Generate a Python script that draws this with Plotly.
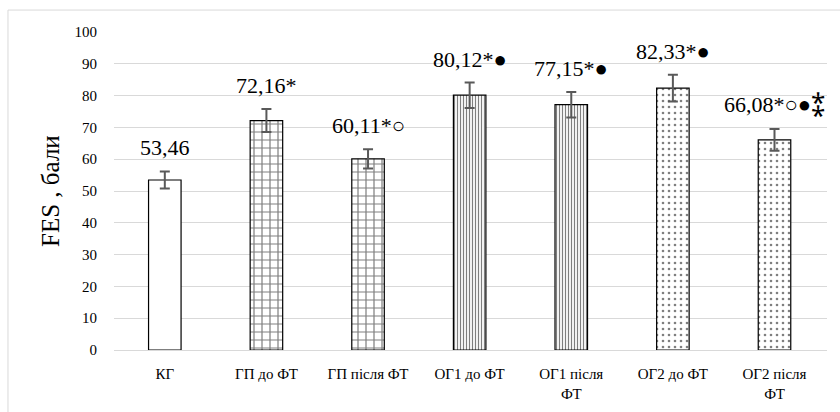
import plotly.graph_objects as go

categories = ["КГ", "ГП до ФТ", "ГП після ФТ", "ОГ1 до ФТ", "ОГ1 після<br>ФТ", "ОГ2 до ФТ", "ОГ2 після<br>ФТ"]
values = [53.46, 72.16, 60.11, 80.12, 77.15, 82.33, 66.08]
errors = [2.7, 3.6, 3.0, 4.0, 4.0, 4.2, 3.4]
labels = ["53,46", "72,16*", "60,11*○", "80,12*●", "77,15*●", "82,33*●", "66,08*○●<span style='font-size:26px'>⁑</span>"]
patterns = ["", "+", "+", "|", "|", ".", "."]
pattern_sizes = [8, 8, 8, 3, 3, 6, 6]
pattern_solidity = [0.2, 0.28, 0.28, 0.4, 0.4, 0.15, 0.15]

SERIF = "Liberation Serif, Times New Roman, Times, serif"

fig = go.Figure()
fig.add_trace(go.Bar(
    x=categories, y=values,
    marker=dict(color="white", line=dict(color="black", width=1.2),
                pattern=dict(shape=patterns, size=pattern_sizes, fgcolor="black",
                             bgcolor="white", solidity=pattern_solidity)),
    error_y=dict(type="data", array=errors, color="#595959", thickness=2, width=5),
    width=0.32,
))

for c, v, e, t in zip(categories, values, errors, labels):
    fig.add_annotation(x=c, y=v + e, text=t, showarrow=False, yanchor="bottom", yshift=9,
                       font=dict(family=SERIF, size=22, color="black"))

fig.add_annotation(xref="paper", yref="paper", x=-0.0898, y=0.5, text="FES , бали",
                   textangle=-90, showarrow=False, xanchor="center", yanchor="middle",
                   font=dict(family=SERIF, size=25, color="black"))

fig.add_shape(type="rect", xref="paper", yref="paper", x0=-0.1487, x1=1.03, y0=-0.25, y1=1.069,
              line=dict(color="#d9d9d9", width=1), fillcolor="rgba(0,0,0,0)", layer="below")

fig.update_layout(
    width=840, height=412,
    margin=dict(l=114, r=13, t=32, b=62),
    paper_bgcolor="white", plot_bgcolor="white",
    showlegend=False,
    font=dict(family=SERIF, size=15, color="black"),
    bargap=0.68,
)
fig.update_xaxes(showline=True, linecolor="#d9d9d9", linewidth=1, ticks="", automargin=False,
                 ticklabelstandoff=10, tickfont=dict(family=SERIF, size=15))
fig.update_yaxes(range=[0, 100], dtick=10, showgrid=True, gridcolor="#d9d9d9", gridwidth=1,
                 zeroline=False, showline=False, ticks="", ticklabelstandoff=16, automargin=False,
                 tickfont=dict(family=SERIF, size=15))

fig.write_html("out.html")
